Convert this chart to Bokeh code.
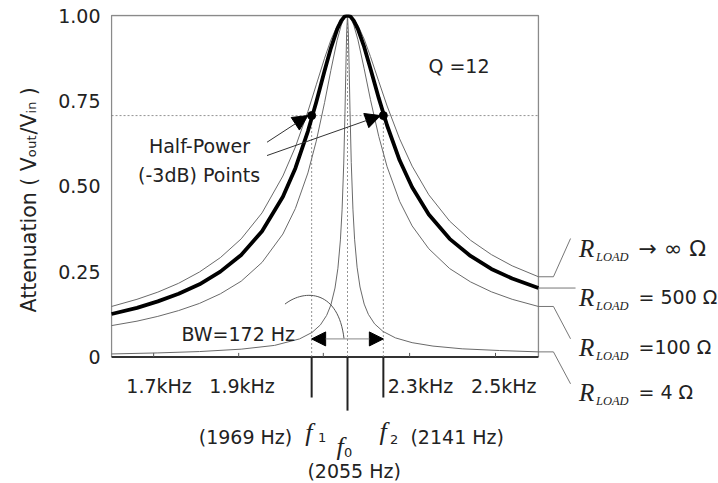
from bokeh.plotting import figure
from bokeh.models import Range1d, FixedTicker, Title, Arrow, NormalHead
from bokeh.core.properties import value
from bokeh.embed import file_html
from bokeh.resources import INLINE

# ---------------- data ----------------
freq = [1489, 1550, 1600, 1650, 1700, 1750, 1800, 1850, 1900, 1930, 1960, 1980,
        2000, 2015, 2030, 2040, 2048, 2055, 2062, 2070, 2080, 2095, 2110, 2130,
        2150, 2180, 2210, 2250, 2300, 2350, 2400, 2450, 2513]
att_inf = [0.148, 0.169, 0.190, 0.216, 0.249, 0.291, 0.346, 0.422, 0.530, 0.615, 0.719, 0.797,
           0.875, 0.928, 0.970, 0.989, 0.998, 1.0, 0.998, 0.989, 0.971, 0.931, 0.880, 0.807,
           0.735, 0.639, 0.559, 0.475, 0.398, 0.342, 0.300, 0.267, 0.235]
att_500 = [0.126, 0.144, 0.163, 0.185, 0.213, 0.250, 0.299, 0.368, 0.469, 0.553, 0.661, 0.746,
           0.838, 0.904, 0.959, 0.985, 0.997, 1.0, 0.997, 0.985, 0.960, 0.908, 0.845, 0.758,
           0.678, 0.576, 0.497, 0.417, 0.346, 0.296, 0.258, 0.230, 0.202]
att_100 = [0.092, 0.105, 0.119, 0.136, 0.157, 0.185, 0.222, 0.277, 0.360, 0.435, 0.539, 0.632,
           0.745, 0.839, 0.927, 0.972, 0.994, 1.0, 0.994, 0.972, 0.929, 0.844, 0.754, 0.646,
           0.557, 0.456, 0.384, 0.317, 0.259, 0.220, 0.191, 0.169, 0.148]
freq_4 = [1489, 1600, 1700, 1800, 1880, 1940, 1970, 1990, 2005, 2015, 2025, 2032, 2038,
          2042, 2046, 2049, 2051, 2053, 2055, 2057, 2059, 2061, 2064, 2068, 2072, 2078,
          2085, 2095, 2105, 2120, 2140, 2170, 2210, 2260, 2330, 2420, 2513]
att_4 = [0.009, 0.012, 0.016, 0.023, 0.034, 0.053, 0.072, 0.094, 0.122, 0.152, 0.202, 0.260, 0.343,
         0.431, 0.568, 0.720, 0.841, 0.952, 1.0, 0.952, 0.842, 0.721, 0.570, 0.433, 0.345, 0.263,
         0.205, 0.155, 0.125, 0.097, 0.075, 0.056, 0.042, 0.032, 0.024, 0.019, 0.015]

f0, f1, f2 = 2055, 1969, 2141
half_power = 0.707
f_min, f_max = 1489, 2513

y_ticks = [0, 0.25, 0.5, 0.75, 1.0]
y_tick_labels = ["0", "0.25", "0.50", "0.75", "1.00"]
x_tick_labels = ["1.7kHz", "1.9kHz", "2.3kHz", "2.5kHz"]
x_tick_label_pos = [1603, 1802, 2230, 2430]
x_minor_ticks = [1590, 1794, 1997, 2204, 2410]

load_labels = ["\u2192 \u221e \u03a9", "= 500 \u03a9", "=100 \u03a9", "= 4 \u03a9"]
curve_end_vals = [att_inf[-1], att_500[-1], att_100[-1], att_4[-1]]

SANS = value("DejaVu Sans")
SERIF = value("Liberation Serif")
TXT = "#222222"
GRAY = "#6a6a6a"

p = figure(width=718, height=483, output_backend="svg", toolbar_location=None,
           x_range=Range1d(1486.5, 2944.9), y_range=Range1d(-0.3704, 1.003),
           x_axis_location=None, title=None,
           min_border_left=110, min_border_right=0, min_border_top=14, min_border_bottom=0)
p.grid.visible = False
p.outline_line_color = None
p.background_fill_color = "white"
p.border_fill_color = "white"

# y axis
ax = p.yaxis[0]
ax.ticker = FixedTicker(ticks=y_ticks, minor_ticks=[])
ax.major_label_overrides = dict(zip(y_ticks, y_tick_labels))
ax.axis_line_color = None
ax.major_tick_line_color = None
ax.minor_tick_line_color = None
ax.major_tick_in = 0
ax.major_tick_out = 0
ax.major_label_standoff = 10
ax.major_label_text_font = "DejaVu Sans"
ax.major_label_text_font_size = "19px"
ax.major_label_text_color = TXT

p.add_layout(Title(text="Attenuation ( V\u2092\u1d64\u209c/V\u1d62\u2099 )", align="left", offset=171,
                   text_font="DejaVu Sans", text_font_size="20.5px", text_font_style="normal",
                   text_color=TXT, standoff=29), "left")

# box
p.line([f_min, f_min, f_max, f_max], [0, 1, 1, 0], line_color="#8a8a8a", line_width=1.3)
p.line([f_min, f_max], [0, 0], line_color="#333333", line_width=2)
p.segment(x0=x_minor_ticks, y0=[0] * len(x_minor_ticks), x1=x_minor_ticks,
          y1=[0.012] * len(x_minor_ticks), line_color="#555555", line_width=1)

# dashed guides
p.line([f_min, f_max], [half_power, half_power], line_color="#777777", line_width=0.8, line_dash="2 2")
p.segment(x0=[f1, f2, f0], y0=[0, 0, 0], x1=[f1, f2, f0], y1=[half_power, half_power, 1.0],
          line_color="#777777", line_width=0.8, line_dash="2 2")

# curves
p.line(freq, att_inf, line_color=GRAY, line_width=1)
p.line(freq, att_100, line_color=GRAY, line_width=1)
p.line(freq_4, att_4, line_color=GRAY, line_width=1)
p.line(freq, att_500, line_color="black", line_width=3.8, line_join="round")

# half-power points
p.scatter([f1, f2], [half_power, half_power], size=8, color="black")
p.add_layout(Arrow(end=NormalHead(size=15, fill_color="black", line_color="black"),
                   x_start=1862, y_start=0.629, x_end=f1 - 9, y_end=half_power,
                   line_color="#333333", line_width=1))
p.add_layout(Arrow(end=NormalHead(size=15, fill_color="black", line_color="black"),
                   x_start=1862, y_start=0.590, x_end=f2 - 7, y_end=half_power,
                   line_color="#333333", line_width=1))
p.text(x=[1700, 1699], y=[0.617, 0.534], text=["Half-Power", "(-3dB) Points"],
       text_font=SANS, text_font_size="19px", text_color=TXT,
       text_align="center", text_baseline="alphabetic")

# Q label
p.text(x=[2249], y=[0.851], text=["Q =12"], text_font=SANS, text_font_size="19px",
       text_color=TXT, text_align="left", text_baseline="middle")

# bandwidth
bw_y = 0.053
p.add_layout(Arrow(start=NormalHead(size=14, fill_color="black", line_color="black"),
                   end=NormalHead(size=14, fill_color="black", line_color="black"),
                   x_start=f1, y_start=bw_y, x_end=f2, y_end=bw_y,
                   line_color="#888888", line_width=1))
p.bezier(x0=[1905], y0=[0.155], x1=[2046.6], y1=[0.054], cx0=[1954], cy0=[0.201],
         cx1=[2033], cy1=[0.195], line_color="#555555", line_width=1)
p.text(x=[1793], y=[0.068], text=["BW=172 Hz"], text_font=SANS, text_font_size="19px",
       text_color=TXT, text_align="center", text_baseline="alphabetic")

# x tick labels
p.text(x=x_tick_label_pos, y=[-0.0835] * 4, text=x_tick_labels, text_font=SANS,
       text_font_size="19px", text_color=TXT, text_align="center", text_baseline="alphabetic")

# f markers below the axis
p.segment(x0=[f1, f0, f2], y0=[0, 0, 0], x1=[f1, f0, f2], y1=[-0.1186, -0.157, -0.1186],
          line_color="#222222", line_width=2)
p.text(x=[1953.5, 2028.5, 2132], y=[-0.221, -0.261, -0.218], text=["f", "f", "f"],
       text_font=SERIF, text_font_style="italic", text_font_size="26px", text_color=TXT,
       text_align="left", text_baseline="alphabetic")
p.text(x=[1984.5, 2046.6, 2157], y=[-0.2348, -0.2796, -0.2420], text=["1", "0", "2"],
       text_font=SANS, text_font_size="13px", text_color=TXT,
       text_align="left", text_baseline="alphabetic")
p.text(x=[1810.3, 2318.1, 2071], y=[-0.2328, -0.234, -0.333],
       text=["(%d Hz)" % f1, "(%d Hz)" % f2, "(%d Hz)" % f0],
       text_font=SANS, text_font_size="19px", text_color=TXT,
       text_align="center", text_baseline="alphabetic")

# load labels with leader lines
lead_x = [[f_max, 2549, 2590], [f_max, 2602], [f_max, 2549, 2590], [f_max, 2549, 2590]]
lead_y = [[curve_end_vals[0], curve_end_vals[0], 0.347], [curve_end_vals[1], curve_end_vals[1]],
          [curve_end_vals[2], curve_end_vals[2], 0.0533], [curve_end_vals[3], curve_end_vals[3], -0.0785]]
p.multi_line(xs=lead_x, ys=lead_y, line_color="#666666", line_width=0.9)

row_base = [0.3177, 0.1751, 0.0293, -0.1031]
sub_base = [0.2928, 0.1502, 0.0044, -0.1280]
p.text(x=[2610] * 4, y=row_base, text=["R"] * 4, text_font=SERIF, text_font_style="italic",
       text_font_size="25px", text_color=TXT, text_align="left", text_baseline="alphabetic")
p.text(x=[2651] * 4, y=sub_base, text=["LOAD"] * 4, text_font=SERIF, text_font_style="italic",
       text_font_size="12.5px", text_color=TXT, text_align="left", text_baseline="alphabetic")
p.text(x=[2753], y=row_base[:1], text=load_labels[:1], text_font=SANS,
       text_font_size="22px", text_color=TXT, text_align="left", text_baseline="alphabetic")
p.text(x=[2753] * 3, y=row_base[1:], text=load_labels[1:], text_font=SANS,
       text_font_size="19px", text_color=TXT, text_align="left", text_baseline="alphabetic")

open("out.html", "w").write(file_html(p, INLINE, title="Resonance curves"))
